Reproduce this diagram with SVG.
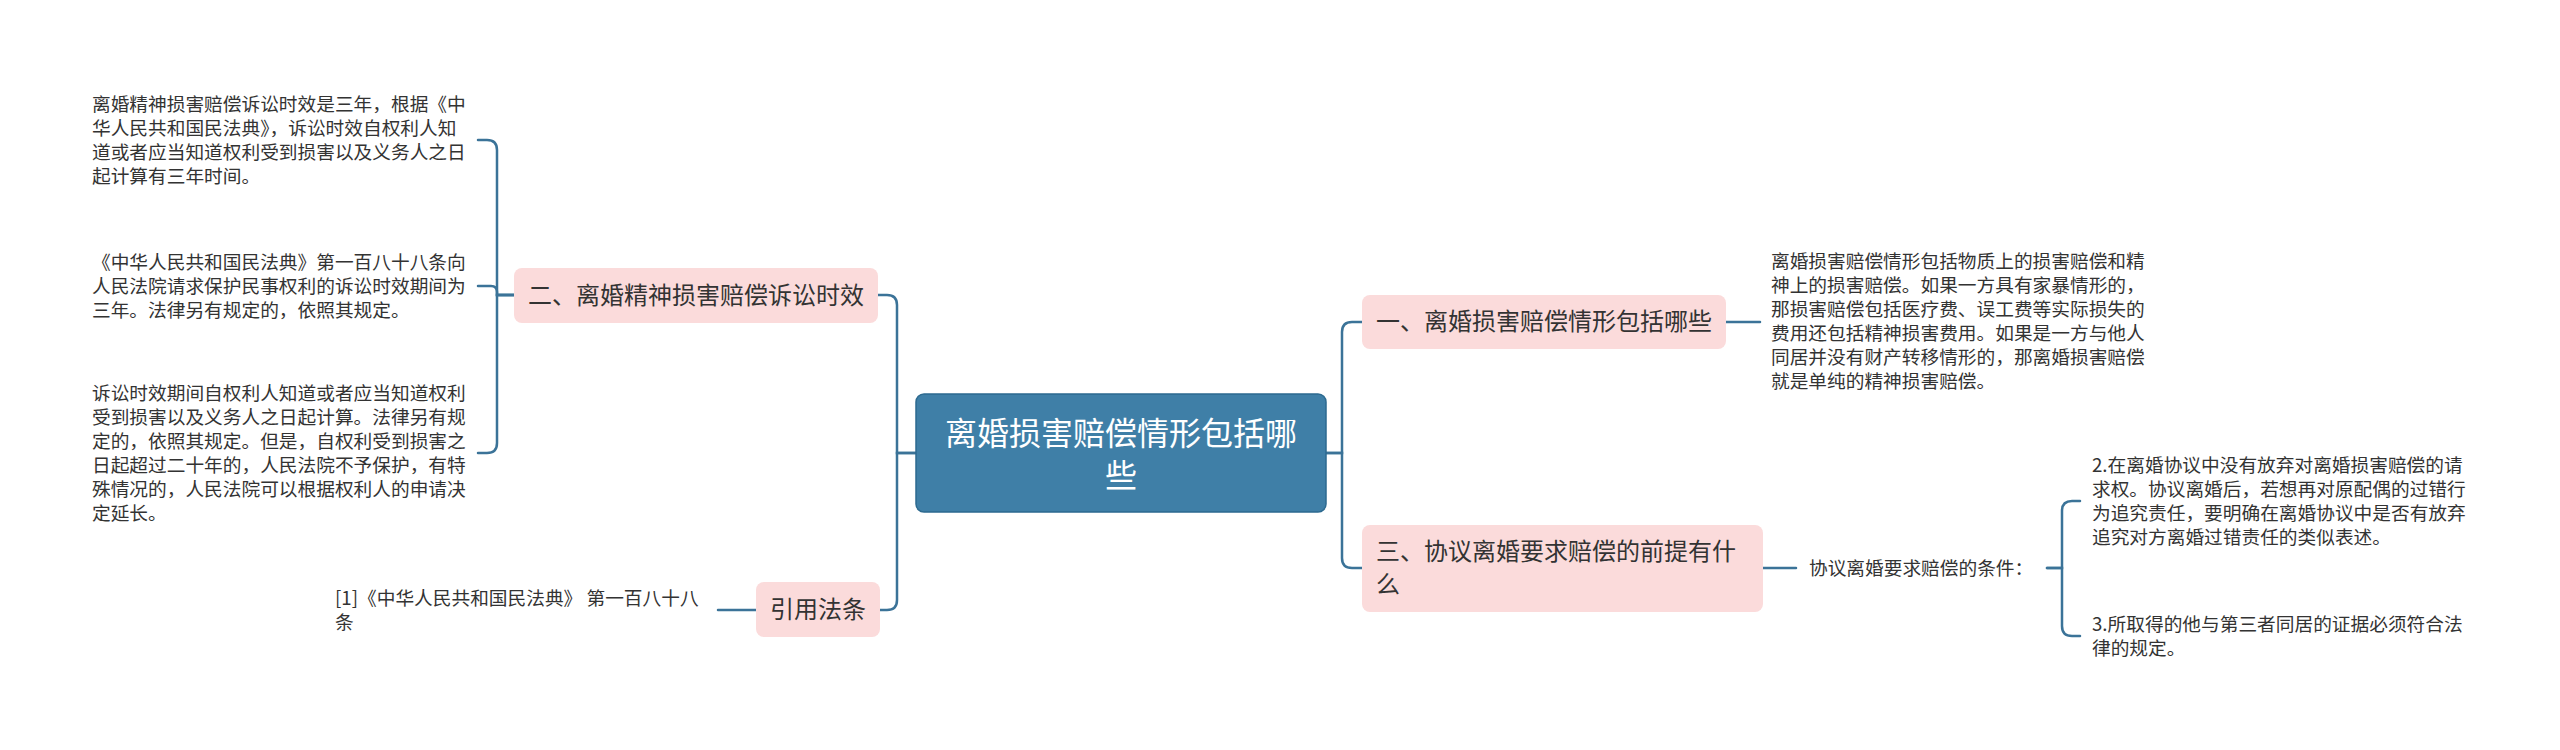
<svg xmlns="http://www.w3.org/2000/svg" width="2560" height="750" viewBox="0 0 2560 750">
<style>
text{font-family:"Noto Sans CJK SC","Noto Sans",sans-serif;fill:#333}
.leaf{font-size:18.7px}
.br{font-size:24px}
.brbox{fill:#fbdbdb;stroke:none}
.ctr{fill:#3f7fa7;stroke:#2d6a90;stroke-width:1.5}
.ctrt{font-size:32px;fill:#fff}
.con{fill:none;stroke:#3b7398;stroke-width:2.5;stroke-linecap:round}
</style>
<rect width="2560" height="750" fill="#fff"/>
<g id="connectors">
<path class="con" d="M916,453 H897 V305 Q897,295 887,295 H878"/>
<path class="con" d="M916,453 H897 V600 Q897,610 887,610 H880"/>
<path class="con" d="M514,295 H497 V150 Q497,140 487,140 H478"/>
<path class="con" d="M514,295 H497 V292 Q497,286 491,286 H478"/>
<path class="con" d="M514,295 H497 V443 Q497,453 487,453 H478"/>
<path class="con" d="M756,610 H718"/>
<path class="con" d="M1326,453 H1342 V332 Q1342,322 1352,322 H1362"/>
<path class="con" d="M1326,453 H1342 V558 Q1342,568 1352,568 H1362"/>
<path class="con" d="M1726,322 H1760"/>
<path class="con" d="M1763,568 H1796"/>
<path class="con" d="M2047,568 H2062 V511 Q2062,501 2072,501 H2080"/>
<path class="con" d="M2047,568 H2062 V626 Q2062,636 2072,636 H2080"/>
</g>
<g id="center">
<rect class="ctr" x="916" y="394" width="410" height="118" rx="8"/>
<text class="ctrt" x="1121" y="445" text-anchor="middle">离婚损害赔偿情形包括哪</text>
<text class="ctrt" x="1121" y="487" text-anchor="middle">些</text>
</g>
<g id="node-left">
<rect class="brbox" x="514" y="268" width="364" height="55" rx="8"/>
<text class="br" x="528" y="304">二、离婚精神损害赔偿诉讼时效</text>
</g>
<g id="leaf-l1">
<text class="leaf" x="92" y="111">离婚精神损害赔偿诉讼时效是三年，根据《中</text>
<text class="leaf" x="92" y="135">华人民共和国民法典》，诉讼时效自权利人知</text>
<text class="leaf" x="92" y="159">道或者应当知道权利受到损害以及义务人之日</text>
<text class="leaf" x="92" y="183">起计算有三年时间。</text>
</g>
<g id="leaf-l2">
<text class="leaf" x="92" y="269">《中华人民共和国民法典》第一百八十八条向</text>
<text class="leaf" x="92" y="293">人民法院请求保护民事权利的诉讼时效期间为</text>
<text class="leaf" x="92" y="317">三年。法律另有规定的，依照其规定。</text>
</g>
<g id="leaf-l3">
<text class="leaf" x="92" y="400">诉讼时效期间自权利人知道或者应当知道权利</text>
<text class="leaf" x="92" y="424">受到损害以及义务人之日起计算。法律另有规</text>
<text class="leaf" x="92" y="448">定的，依照其规定。但是，自权利受到损害之</text>
<text class="leaf" x="92" y="472">日起超过二十年的，人民法院不予保护，有特</text>
<text class="leaf" x="92" y="496">殊情况的，人民法院可以根据权利人的申请决</text>
<text class="leaf" x="92" y="520">定延长。</text>
</g>
<g id="node-ref">
<rect class="brbox" x="756" y="582" width="124" height="55" rx="8"/>
<text class="br" x="770" y="618">引用法条</text>
</g>
<g id="leaf-ref">
<text class="leaf" x="335" y="605">[1]《中华人民共和国民法典》 第一百八十八</text>
<text class="leaf" x="335" y="629">条</text>
</g>
<g id="node-r1">
<rect class="brbox" x="1362" y="295" width="364" height="54" rx="8"/>
<text class="br" x="1376" y="330">一、离婚损害赔偿情形包括哪些</text>
</g>
<g id="leaf-r1">
<text class="leaf" x="1771" y="268">离婚损害赔偿情形包括物质上的损害赔偿和精</text>
<text class="leaf" x="1771" y="292">神上的损害赔偿。如果一方具有家暴情形的，</text>
<text class="leaf" x="1771" y="316">那损害赔偿包括医疗费、误工费等实际损失的</text>
<text class="leaf" x="1771" y="340">费用还包括精神损害费用。如果是一方与他人</text>
<text class="leaf" x="1771" y="364">同居并没有财产转移情形的，那离婚损害赔偿</text>
<text class="leaf" x="1771" y="388">就是单纯的精神损害赔偿。</text>
</g>
<g id="node-r3">
<rect class="brbox" x="1362" y="525" width="401" height="87" rx="8"/>
<text class="br" x="1376" y="560">三、协议离婚要求赔偿的前提有什</text>
<text class="br" x="1376" y="593">么</text>
</g>
<g id="leaf-cond">
<text class="leaf" x="1809" y="575">协议离婚要求赔偿的条件：</text>
</g>
<g id="leaf-c2">
<text class="leaf" x="2092" y="472">2.在离婚协议中没有放弃对离婚损害赔偿的请</text>
<text class="leaf" x="2092" y="496">求权。协议离婚后，若想再对原配偶的过错行</text>
<text class="leaf" x="2092" y="520">为追究责任，要明确在离婚协议中是否有放弃</text>
<text class="leaf" x="2092" y="544">追究对方离婚过错责任的类似表述。</text>
</g>
<g id="leaf-c3">
<text class="leaf" x="2092" y="631">3.所取得的他与第三者同居的证据必须符合法</text>
<text class="leaf" x="2092" y="655">律的规定。</text>
</g>
</svg>
